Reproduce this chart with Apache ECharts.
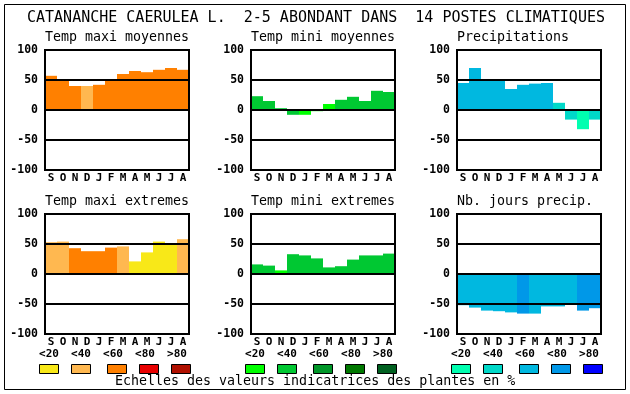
<!DOCTYPE html>
<html><head><meta charset="utf-8">
<script src="https://cdn.jsdelivr.net/npm/echarts@6/dist/echarts.min.js"></script>
<style>html,body{margin:0;padding:0;background:#fff}#c{width:630px;height:394px}</style>
</head><body><div id="c"></div>
<script>
// ---- data ----
const months = ['S','O','N','D','J','F','M','A','M','J','J','A'];
const yTicks = [-100, -50, 0, 50, 100];
const legendLabels = ['<20','<40','<60','<80','>80'];
const titleText = 'CATANANCHE CAERULEA L.  2-5 ABONDANT DANS  14 POSTES CLIMATIQUES';
const footerText = 'Echelles des valeurs indicatrices des plantes en %';

const panelTitles = ['Temp maxi moyennes','Temp mini moyennes','Precipitations',
                     'Temp maxi extremes','Temp mini extremes','Nb. jours precip.'];

const tmaxMoy = [57, 51, 40, 40, 42, 51, 60, 65, 63, 67, 70, 67];
const tmaxMoyCls = [2, 2, 2, 1, 2, 2, 2, 2, 2, 2, 2, 2];
const tminMoy = [23, 15, 3, -8, -8, -2, 10, 17, 22, 15, 32, 30];
const tminMoyCls = [1, 1, 1, 1, 0, 0, 0, 1, 1, 1, 1, 1];
const precip = [45, 70, 49, 49, 35, 42, 44, 45, 12, -16, -32, -16];
const precipCls = [2, 2, 2, 2, 2, 2, 2, 2, 1, 1, 0, 1];
const tmaxExt = [53, 54, 43, 38, 38, 44, 46, 21, 36, 54, 50, 58];
const tmaxExtCls = [1, 1, 2, 2, 2, 2, 1, 0, 0, 0, 0, 1];
const tminExt = [16, 14, 6, 33, 31, 26, 11, 13, 24, 31, 31, 34];
const tminExtCls = [1, 1, 0, 1, 1, 1, 1, 1, 1, 1, 1, 1];
const nbJours = [-52, -56, -61, -62, -64, -66, -66, -54, -54, -50, -61, -57];
const nbJoursCls = [2, 2, 2, 2, 2, 3, 2, 2, 2, 2, 3, 3];

const warm = ['#F8E818','#FFB850','#FF8000','#E80000','#B01000'];
const green = ['#00FF00','#00C832','#009628','#007800','#006020'];
const water = ['#00FFB0','#00D8C8','#00B8E0','#0098E8','#0000FF'];

// ---- layout ----
const mono = 'DejaVu Sans Mono';
const colX = [45, 251, 457];
const rowY = [50, 214];
const plotW = 144, plotH = 120;

const panels = [
  {vals: tmaxMoy, cls: tmaxMoyCls, pal: warm},
  {vals: tminMoy, cls: tminMoyCls, pal: green},
  {vals: precip, cls: precipCls, pal: water},
  {vals: tmaxExt, cls: tmaxExtCls, pal: warm},
  {vals: tminExt, cls: tminExtCls, pal: green},
  {vals: nbJours, cls: nbJoursCls, pal: water}
];

const grids = [], xAxes = [], yAxes = [], series = [], graphics = [];
panels.forEach((p, i) => {
  const c = i % 3, r = Math.floor(i / 3);
  grids.push({left: colX[c], top: rowY[r], width: plotW, height: plotH,
    show: true, borderColor: '#000', borderWidth: 2, backgroundColor: 'rgba(0,0,0,0)',
    z: 10, outerBoundsMode: 'none', containLabel: false});
  xAxes.push({type: 'category', gridIndex: i, data: months,
    axisLine: {show: false}, axisTick: {show: false}, splitLine: {show: false},
    axisLabel: {interval: 0, margin: 3, color: '#000', fontFamily: mono, fontWeight: 'bold', fontSize: 11}});
  yAxes.push({type: 'value', gridIndex: i, min: yTicks[0], max: yTicks[yTicks.length - 1], interval: 50,
    z: 10,
    axisLine: {show: false}, axisTick: {show: false},
    splitLine: {show: true, lineStyle: {color: '#000', width: 2}},
    axisLabel: {margin: 7, color: '#000', fontFamily: mono, fontWeight: 'bold', fontSize: 11.5}});
  series.push({type: 'bar', xAxisIndex: i, yAxisIndex: i, barCategoryGap: '0%', barGap: '0%',
    animation: false,
    data: p.vals.map((v, k) => ({value: v, itemStyle: {color: p.pal[p.cls[k]]}}))});
  graphics.push({type: 'text', x: colX[c], y: rowY[r] - 12,
    style: {text: panelTitles[i], fontFamily: mono, fontSize: 13.3, fill: '#000', textVerticalAlign: 'middle'}});
});

// outer frame
graphics.push({type: 'rect', shape: {x: 4.5, y: 4.5, width: 621, height: 385},
  style: {fill: 'none', stroke: '#000', lineWidth: 1}, z: 20});
// main title
graphics.push({type: 'text', x: 27, y: 18,
  style: {text: titleText, fontFamily: mono, fontSize: 15, fill: '#000', textVerticalAlign: 'middle'}});
// legends
const legLabelX = [49, 81, 113, 145, 177];
const legBoxX = [39, 71, 107, 139, 171];
const legOffsets = [0, 206, 412];
const legPal = [warm, green, water];
legOffsets.forEach((off, c) => {
  legendLabels.forEach((t, k) => {
    graphics.push({type: 'text', x: legLabelX[k] + off, y: 354,
      style: {text: t, fontFamily: mono, fontWeight: 'bold', fontSize: 11, fill: '#000',
        textAlign: 'center', textVerticalAlign: 'middle'}});
    graphics.push({type: 'rect', shape: {x: legBoxX[k] + off + 0.5, y: 364.5, width: 19, height: 9},
      style: {fill: legPal[c][k], stroke: '#000', lineWidth: 1}});
  });
});
graphics.push({type: 'text', x: 115, y: 382,
  style: {text: footerText, fontFamily: mono, fontSize: 13.3, fill: '#000', textVerticalAlign: 'middle'}});

const chart = echarts.init(document.getElementById('c'), null, {renderer: 'canvas'});
chart.setOption({
  animation: false,
  backgroundColor: '#fff',
  grid: grids, xAxis: xAxes, yAxis: yAxes, series: series, graphic: graphics
});
</script></body></html>
